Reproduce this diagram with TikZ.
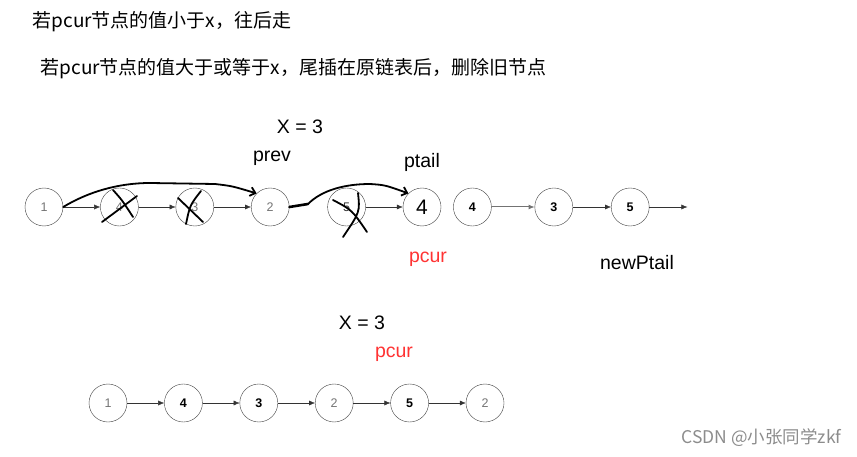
\documentclass[tikz,border=0pt]{standalone}
\usepackage{fontspec}
\setmainfont{Liberation Sans}
\newfontfamily\cjkfont{Noto Sans CJK SC}
\usetikzlibrary{positioning, arrows.meta}

\begin{document}
\begin{tikzpicture}[x=1pt, y=-1pt,
  lnode/.style={draw=black!75, circle, minimum size=38pt, inner sep=0pt, font=\fontsize{12.5}{13}\selectfont, text=black!55},
  bnode/.style={lnode, font=\fontsize{12.5}{13}\selectfont\bfseries, text=black},
  link/.style={-{Latex[length=6pt, width=5pt]}, black!80},
  pen/.style={line width=1.8pt, line cap=round, line join=round},
  label/.style={font=\fontsize{19.5}{22}\selectfont},
  ptr/.style={label, text=red!80},
  note/.style={font=\cjkfont\fontsize{19}{22}\selectfont, anchor=west}
]
\useasboundingbox (0,0) rectangle (857,457);

% Notes
\node[note] (n1) at (29,22) {若pcur节点的值小于x，往后走};
\node[note] (n2) at (37,69) {若pcur节点的值大于或等于x，尾插在原链表后，删除旧节点};

% Row 1
\node[lnode] (a1) at (44,207) {1};
\node[lnode, right=37pt of a1] (a2) {4};
\node[lnode, right=37pt of a2] (a3) {3};
\node[lnode, right=37pt of a3] (a4) {2};
\node[lnode, right=38pt of a4, text=black!80] (a5) {5};
\node[lnode, right=37pt of a5, font=\fontsize{21}{22}\selectfont, text=black] (a6) {4};
\node[bnode, right=12pt of a6] (a7) {4};
\node[bnode, right=43pt of a7] (a8) {3};
\node[bnode, right=38pt of a8] (a9) {5};
\coordinate[right=38pt of a9] (tail);

\node[label] (x1) at (300,127) {X = 3};
\node[label] (prev) at (272,158) {prev};
\node[label] (ptail) at (422,162) {ptail};
\node[ptr] (pc1) at (428,259) {pcur};
\node[label] (newt) at (637,263) {newPtail};

\draw[link] (a1) -- (a2);
\draw[link] (a2) -- (a3);
\draw[link] (a3) -- (a4);
\draw[link] (a5) -- (a6);
\draw[link, black!55, line width=1pt] (a7) -- (a8);
\draw[link] (a8) -- (a9);
\draw[link] (a9) -- (tail);

% hand strokes
\draw[pen, -{Straight Barb[length=5pt, width=9pt]}] (a1.east) .. controls (88,192) and (118,183) .. (150,183)
  -- (215,184) .. controls (232,186) .. (a4.north west);
\draw[pen, line width=2.6pt] (a4.east) -- (308,204);
\draw[pen, -{Straight Barb[length=5pt, width=9pt]}] (308,204) .. controls (322,190) and (345,184) .. (370,184)
  .. controls (385,185) .. (a6.north west);
\draw[pen] (102,222) -- (137,196);
\draw[pen] (113,190) .. controls (122,200) .. (133,217);
\draw[pen] (178,198) -- (203,222);
\draw[pen] (201,191) .. controls (190,205) .. (186,224);
\draw[pen] (333,200) .. controls (352,210) .. (367,232);
\draw[pen] (358,193) .. controls (360,212) .. (343,237);

% Row 2
\node[label] (x2) at (362,323) {X = 3};
\node[ptr] (pc2) at (394,354) {pcur};

\node[lnode] (b1) at (108,403) {1};
\node[bnode, right=37pt of b1] (b2) {4};
\node[bnode, right=37pt of b2] (b3) {3};
\node[lnode, right=37pt of b3] (b4) {2};
\node[bnode, right=37pt of b4] (b5) {5};
\node[lnode, right=37pt of b5] (b6) {2};

\draw[link] (b1) -- (b2);
\draw[link] (b2) -- (b3);
\draw[link] (b3) -- (b4);
\draw[link] (b4) -- (b5);
\draw[link] (b5) -- (b6);

\node[font=\cjkfont\fontsize{17.5}{20}\selectfont, text=black!45, anchor=east] (mark) at (845,438) {CSDN @小张同学zkf};
\end{tikzpicture}
\end{document}
